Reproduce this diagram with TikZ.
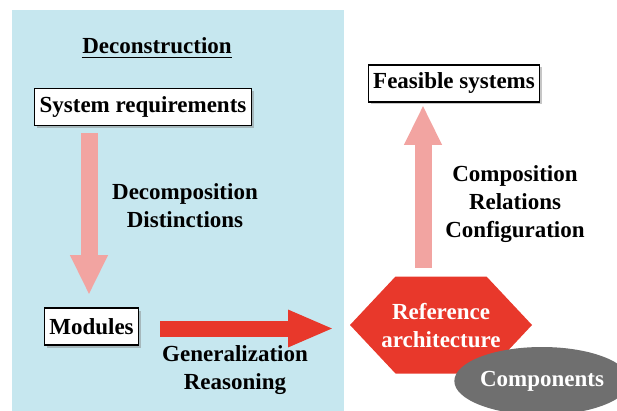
\documentclass[tikz,border=0pt]{standalone}
\usepackage{fontspec}
\setmainfont{Liberation Serif}
\usetikzlibrary{shapes.geometric,shadows,arrows.meta,calc}
\definecolor{panelblue}{HTML}{C6E7EF}
\definecolor{pinkarrow}{HTML}{F2A4A1}
\definecolor{redfill}{HTML}{E8382B}
\definecolor{greyfill}{HTML}{6F6F6F}
\tikzset{
  txt/.style={font=\fontsize{23}{28}\selectfont\bfseries, align=center},
  labelbox/.style={txt, draw=black, line width=1.3pt, fill=white, inner xsep=5pt, inner ysep=2pt,
    minimum height=37pt, drop shadow={shadow xshift=2.5pt, shadow yshift=-2.5pt, opacity=0.45}},
  softarrow/.style={line width=17pt, draw=pinkarrow, -{Triangle[length=40pt,width=35pt]}},
  boldarrow/.style={line width=16pt, draw=redfill, -{Triangle[length=46pt,width=34pt]}},
}
\begin{document}
\begin{tikzpicture}[x=1pt,y=-1pt]
\useasboundingbox (0,0) rectangle (617,411);
% left panel
\fill[panelblue] (12,10) rectangle (344,411);
\node[txt] (decon) at (157,46) {Deconstruction};
\draw[line width=1.3pt] ($(decon.base west)+(3,4)$) -- ($(decon.base east)+(-3,4)$);
% boxes
\node[labelbox] (sysreq) at (143,107) {System requirements};
\node[labelbox] (modules) at (91.5,326.5) {Modules};
\node[labelbox] (feasible) at (454,83.5) {Feasible systems};
% hexagon and ellipse
\node[regular polygon, regular polygon sides=6, shape border rotate=0, fill=redfill,
  minimum size=200pt, yscale=0.56, xscale=0.91] (refarch) at (441,325) {};
\node[txt, text=white] (reftxt) at (441,326) {Reference\\architecture};
\node[ellipse, fill=greyfill, minimum width=156pt, minimum height=68pt, txt, text=white,
  inner sep=0pt] (comp) at (542,381) {Components};
% arrow end points
\coordinate (a1s) at (89,133);
\coordinate (a1e) at (89,295);
\coordinate (a2s) at (160,328.5);
\coordinate (a2e) at (334,328.5);
\coordinate (a3s) at (423,268);
\coordinate (a3e) at (423,105);
\draw[softarrow] (a1s) -- (a1e);
\draw[boldarrow] (a2s) -- (a2e);
\draw[softarrow] (a3s) -- (a3e);
% labels
\node[txt] (dec) at (185,206) {Decomposition\\Distinctions};
\node[txt] (gen) at (235,370) {Generalization\\Reasoning};
\node[txt] (compo) at (515,204) {Composition\\Relations\\Configuration};
\end{tikzpicture}
\end{document}
